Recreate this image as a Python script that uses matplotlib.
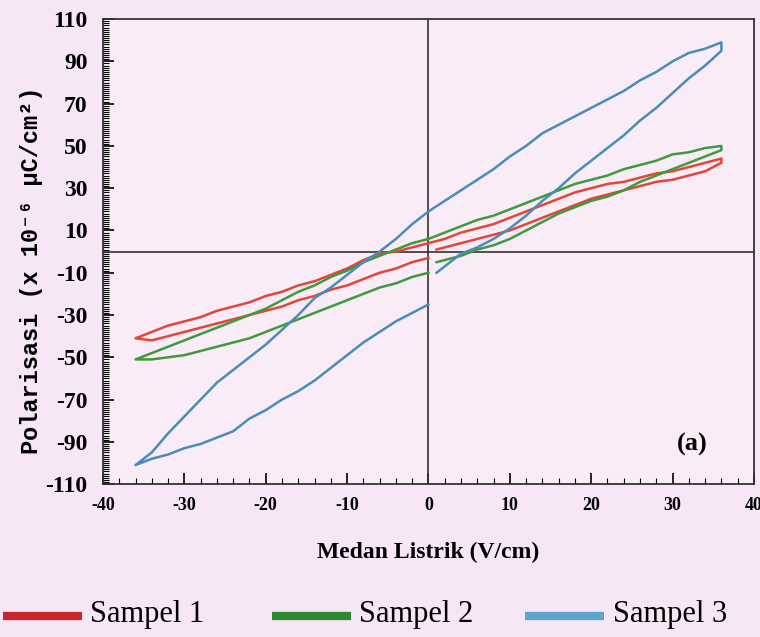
import matplotlib
matplotlib.use('Agg')
import matplotlib.pyplot as plt
from matplotlib.lines import Line2D
from matplotlib.ticker import MultipleLocator

plt.rcParams['axes.unicode_minus'] = False

# field grids (V/cm)
E_upper = [36, 34, 32, 30, 28, 26, 24, 22, 20, 18, 16, 14, 12, 10, 8, 6, 4, 2, 0,
           -2, -4, -6, -8, -10, -12, -14, -16, -18, -20, -22, -24, -26, -28, -30, -32, -34, -36]
E_low_left = [-36, -34, -32, -30, -28, -26, -24, -22, -20, -18, -16, -14, -12, -10, -8, -6, -4, -2, 0]
E_low_right = [1, 2, 4, 6, 8, 10, 12, 14, 16, 18, 20, 22, 24, 26, 28, 30, 32, 34, 36]

# Sampel 1 (red)
s1_upper = [44, 42, 40, 38, 37, 35, 33, 32, 30, 28, 25, 22, 19, 16, 13, 11, 9, 6, 4,
            2, 0, -1, -4, -8, -11, -14, -16, -19, -21, -24, -26, -28, -31, -33, -35, -38, -41]
s1_low_left = [-41, -42, -40, -38, -36, -34, -32, -30, -28, -26, -23, -21, -18, -16, -13, -10, -8, -5, -3]
s1_low_right = [1, 2, 4, 6, 8, 10, 13, 16, 19, 22, 25, 27, 29, 31, 33, 34, 36, 38, 42]

# Sampel 2 (green)
s2_upper = [50, 49, 47, 46, 43, 41, 39, 36, 34, 32, 29, 26, 23, 20, 17, 15, 12, 9, 6,
            4, 1, -2, -5, -9, -12, -16, -19, -23, -27, -30, -33, -36, -39, -42, -45, -48, -51]
s2_low_left = [-51, -51, -50, -49, -47, -45, -43, -41, -38, -35, -32, -29, -26, -23, -20, -17, -15, -12, -10]
s2_low_right = [-5, -4, -2, 1, 3, 6, 10, 14, 18, 21, 24, 26, 29, 33, 36, 39, 42, 45, 48]

# Sampel 3 (blue)
s3_upper = [99, 96, 94, 90, 85, 81, 76, 72, 68, 64, 60, 56, 50, 45, 39, 34, 29, 24, 19,
            13, 6, 0, -5, -11, -17, -22, -30, -37, -44, -50, -56, -62, -70, -78, -86, -95, -101]
s3_low_left = [-101, -98, -96, -93, -91, -88, -85, -79, -75, -70, -66, -61, -55, -49, -43, -38, -33, -29, -25]
s3_low_right = [-10, -7, -1, 2, 6, 11, 17, 24, 30, 37, 43, 49, 55, 62, 68, 75, 82, 88, 95]

labels = ['Sampel 1', 'Sampel 2', 'Sampel 3']
line_colors = ['#e2463a', '#3f9a3c', '#4a8cb8']
legend_colors = ['#c8282a', '#2f8a2f', '#5aa5cd']
x_ticks = [-40, -30, -20, -10, 0, 10, 20, 30, 40]
y_ticks = [-110, -90, -70, -50, -30, -10, 10, 30, 50, 70, 90, 110]

bg = '#f7e6f5'
serif = ['Liberation Serif', 'DejaVu Serif']
mono = ['Liberation Mono', 'DejaVu Sans Mono']

fig = plt.figure(figsize=(7.6, 6.37), dpi=100, facecolor=bg)
ax = fig.add_axes([0.1355, 0.240, 0.8565, 0.730], facecolor='#f9ecf7')

samples = [(s1_low_right, s1_upper, s1_low_left),
           (s2_low_right, s2_upper, s2_low_left),
           (s3_low_right, s3_upper, s3_low_left)]
for (lr, up, ll), c in zip(samples, line_colors):
    xs = E_low_right + E_upper + E_low_left
    ys = lr + up + ll
    ax.plot(xs, ys, color=c, lw=1.8, zorder=3)

ax.axhline(0, color='#333333', lw=1.2, zorder=2)
ax.axvline(0, color='#333333', lw=1.2, zorder=2)

ax.set_xlim(-40, 40)
ax.set_ylim(-110, 110)
ax.set_xticks(x_ticks)
ax.set_yticks(y_ticks)
ax.xaxis.set_minor_locator(MultipleLocator(2))
ax.yaxis.set_minor_locator(MultipleLocator(1))
ax.tick_params(which='major', direction='in', length=8, width=1.2, top=False, right=False)
ax.tick_params(which='minor', direction='in', length=4, width=0.8, top=False, right=False)
ax.tick_params(axis='y', which='major', pad=11)
ax.tick_params(axis='x', which='major', pad=9)
for lab in ax.get_yticklabels():
    lab.set_family(serif)
    lab.set_fontweight('bold')
    lab.set_fontsize(17)
for lab in ax.get_xticklabels():
    lab.set_family(serif)
    lab.set_fontweight('bold')
    lab.set_fontsize(13)
for sp in ax.spines.values():
    sp.set_color('#333333')
    sp.set_linewidth(1.3)

ax.set_xlabel('Medan Listrik (V/cm)', family=serif, fontweight='bold', fontsize=17, labelpad=20)
ax.set_ylabel('Polarisasi (x 10⁻⁶ μC/cm²)', family=mono, fontweight='bold', fontsize=17)
ax.yaxis.set_label_coords(-0.092, 0.46)
ax.text(32.4, -91, '(a)', family=serif, fontweight='bold', fontsize=19, ha='center', va='center')

# legend row under the chart
leg_x = [0.004, 0.358, 0.691]
for x0, lab, c in zip(leg_x, labels, legend_colors):
    fig.add_artist(Line2D([x0, x0 + 0.104], [0.033, 0.033], color=c, lw=6,
                          solid_capstyle='butt', transform=fig.transFigure))
    fig.text(x0 + 0.115, 0.036, lab, family=serif, fontsize=22, va='center', ha='left')

fig.savefig('out.png', dpi=100, facecolor=bg)
